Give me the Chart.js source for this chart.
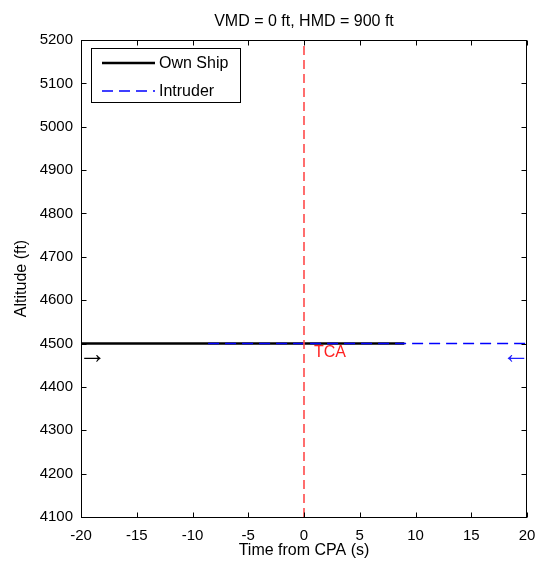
<!DOCTYPE html>
<html>
<head>
<meta charset="utf-8">
<script src="https://cdn.jsdelivr.net/npm/chart.js@4.4.1/dist/chart.umd.min.js"></script>
<style>
  html, body { margin: 0; padding: 0; background: #fff; }
  #wrap { width: 539px; height: 567px; position: relative; }
</style>
</head>
<body>
<div id="wrap"><canvas id="c" width="539" height="567"></canvas></div>
<script>
// Axis limits and tick spacing
const timeLimits = [-20, 20];
const timeStep = 5;
const altLimits = [4100, 5200];
const altStep = 100;

// Trajectories (time from CPA in s, altitude in ft)
const ownShipTime = [-20, 9];
const ownShipAlt = [4500, 4500];
const intruderTime = [-8.6, 20];
const intruderAlt = [4500, 4500];
const tcaTime = [0, 0];
const tcaAlt = [4100, 5200];

// Text labels
const plotTitle = 'VMD = 0 ft, HMD = 900 ft';
const xTitle = 'Time from CPA (s)';
const yTitle = 'Altitude (ft)';
const seriesNames = ['Own Ship', 'Intruder'];

// Annotations placed in data coordinates
const noteText = ['\u2192', 'TCA', '\u2190'];
const noteTime = [-20.25, 0.9, 20.25];
const noteAlt = [4472, 4478, 4472];

const FONT = '"Liberation Sans", Arial, Helvetica, sans-serif';

function pts(xs, ys) { return xs.map((x, i) => ({ x: x, y: ys[i] })); }

const datasets = [
  { label: 'TCA', data: pts(tcaTime, tcaAlt), borderColor: '#ff4a4a', borderWidth: 1.6,
    borderDash: [9, 5], pointRadius: 0, fill: false },
  { label: seriesNames[1], data: pts(intruderTime, intruderAlt), borderColor: '#0000ff', borderWidth: 1.5,
    borderDash: [11, 6], pointRadius: 0, fill: false },
  { label: seriesNames[0], data: pts(ownShipTime, ownShipAlt), borderColor: '#000000', borderWidth: 2.6,
    pointRadius: 0, fill: false }
];

// Frame, inward tick marks, titles, legend and annotations
const matlabAxes = {
  id: 'matlabAxes',
  afterDatasetsDraw(chart) {
    const ctx = chart.ctx;
    const a = chart.chartArea;
    const xs = chart.scales.x, ys = chart.scales.y;
    const L = Math.round(a.left) + 0.5, R = Math.round(a.right) - 0.5;
    const T = Math.round(a.top) + 0.5, B = Math.round(a.bottom) + 0.5;
    ctx.save();
    ctx.strokeStyle = '#000';
    ctx.lineWidth = 1;
    ctx.setLineDash([]);
    ctx.strokeRect(L, T, R - L, B - T);
    const tl = 5;
    ctx.beginPath();
    xs.ticks.forEach(t => {
      const px = Math.round(xs.getPixelForValue(t.value)) + 0.5;
      ctx.moveTo(px, B); ctx.lineTo(px, B - tl);
      ctx.moveTo(px, T); ctx.lineTo(px, T + tl);
    });
    ys.ticks.forEach(t => {
      const py = Math.round(ys.getPixelForValue(t.value)) + 0.5;
      ctx.moveTo(L, py); ctx.lineTo(L + tl, py);
      ctx.moveTo(R, py); ctx.lineTo(R - tl, py);
    });
    ctx.stroke();

    // Legend box
    const lx = 91.5, ly = 48.5, lw = 149, lh = 54;
    ctx.fillStyle = '#fff';
    ctx.fillRect(lx, ly, lw, lh);
    ctx.strokeRect(lx, ly, lw, lh);
    const rows = [datasets[2], datasets[1]];
    const rowY = [63, 91];
    rows.forEach((ds, i) => {
      ctx.beginPath();
      ctx.strokeStyle = ds.borderColor;
      ctx.lineWidth = ds.borderWidth;
      ctx.setLineDash(ds.borderDash || []);
      ctx.moveTo(102, rowY[i]);
      ctx.lineTo(155, rowY[i]);
      ctx.stroke();
      ctx.setLineDash([]);
      ctx.fillStyle = '#000';
      ctx.font = '16px ' + FONT;
      ctx.textAlign = 'left';
      ctx.textBaseline = 'middle';
      ctx.fillText(ds.label, 159, rowY[i] + 1);
    });

    // Annotations
    const noteColor = ['#000', '#ff2020', '#2020ff'];
    const noteAlign = ['left', 'left', 'right'];
    const noteSize = [28, 16, 28];
    noteText.forEach((txt, i) => {
      ctx.fillStyle = noteColor[i];
      ctx.font = noteSize[i] + 'px ' + FONT;
      ctx.textAlign = noteAlign[i];
      ctx.textBaseline = 'middle';
      ctx.fillText(txt, xs.getPixelForValue(noteTime[i]), ys.getPixelForValue(noteAlt[i]));
    });

    // Titles
    ctx.fillStyle = '#000';
    ctx.font = '16px ' + FONT;
    ctx.textAlign = 'center';
    ctx.textBaseline = 'middle';
    const cx = (a.left + a.right) / 2;
    ctx.fillText(plotTitle, cx, 22);
    ctx.fillText(xTitle, cx, 551);
    ctx.translate(22, (a.top + a.bottom) / 2);
    ctx.rotate(-Math.PI / 2);
    ctx.fillText(yTitle, 0, 0);
    ctx.restore();
  }
};

new Chart(document.getElementById('c'), {
  type: 'line',
  data: { datasets: datasets },
  plugins: [matlabAxes],
  options: {
    responsive: false,
    animation: false,
    layout: { padding: { top: 40, right: 12, left: 0, bottom: 0 } },
    plugins: { legend: { display: false }, tooltip: { enabled: false }, title: { display: false } },
    scales: {
      x: {
        type: 'linear', min: timeLimits[0], max: timeLimits[1],
        ticks: { stepSize: timeStep, color: '#000', font: { family: FONT, size: 15 }, padding: 10,
                 maxRotation: 0, autoSkip: false, callback: v => String(v) },
        grid: { display: false, drawTicks: false },
        border: { display: false },
        afterFit(s) { s.height = 50; s.paddingLeft = 0; s.paddingRight = 0; }
      },
      y: {
        type: 'linear', min: altLimits[0], max: altLimits[1],
        ticks: { stepSize: altStep, color: '#000', font: { family: FONT, size: 15 }, padding: 8,
                 autoSkip: false, callback: v => String(v) },
        grid: { display: false, drawTicks: false },
        border: { display: false },
        afterFit(s) { s.width = 81; s.paddingTop = 0; s.paddingBottom = 0; }
      }
    }
  }
});
</script>
</body>
</html>
